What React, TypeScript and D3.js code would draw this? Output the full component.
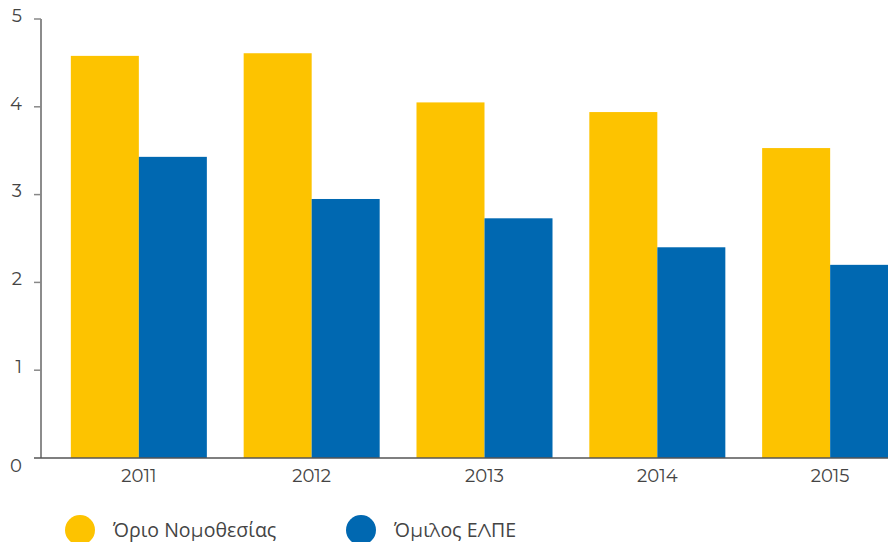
import React from "react";
import * as d3 from "d3";

const years = ["2011", "2012", "2013", "2014", "2015"];
const seriesNames = ["Όριο Νομοθεσίας", "Όμιλος ΕΛΠΕ"];
const limitValues = [4.58, 4.61, 4.05, 3.94, 3.53];
const groupValues = [3.43, 2.95, 2.73, 2.4, 2.2];
const yTicks = [0, 1, 2, 3, 4, 5];
const colors = ["#FDC300", "#0068B1"];

export default function App() {
  const W = 888, H = 542;
  const axisX = 41, baseY = 458, topY = 19;
  const y = d3.scaleLinear().domain([0, 5]).range([baseY, topY]);
  const x = d3.scaleBand().domain(years).range([38, 931]).paddingInner(0.213).paddingOuter(0.19);
  const sub = d3.scaleBand().domain(["a", "b"]).range([0, x.bandwidth()]);
  const series = [limitValues, groupValues];
  const font = "Montserrat, 'Open Sans', 'Noto Sans', sans-serif";
  return (
    <svg width={W} height={H} style={{ position: "absolute", left: 0, top: 0 }} fontFamily={font}>
      {years.map((yr, i) =>
        series.map((s, j) => (
          <rect key={yr + j} x={x(yr)! + sub(j === 0 ? "a" : "b")!} y={y(s[i])} width={sub.bandwidth()} height={baseY - y(s[i])} fill={colors[j]} />
        ))
      )}
      <line x1={axisX} x2={axisX} y1={topY} y2={baseY} stroke="#666" strokeWidth={1.5} />
      <line x1={34} x2={W} y1={baseY} y2={baseY} stroke="#555" strokeWidth={1.5} />
      {yTicks.map((t) => (
        <g key={t}>
          {t > 0 && <line x1={34} x2={axisX} y1={y(t)} y2={y(t)} stroke="#888" strokeWidth={1.5} />}
          <text x={22} y={t === 0 ? y(t) + 9 : y(t) - 2} textAnchor="end" dominantBaseline="middle" fontSize={18} fill="#444">{t}</text>
        </g>
      ))}
      {years.map((yr) => (
        <text key={yr} x={x(yr)! + x.bandwidth() / 2} y={477} textAnchor="middle" dominantBaseline="middle" fontSize={18} fill="#444">{yr}</text>
      ))}
      {seriesNames.map((n, j) => {
        const cx = j === 0 ? 80 : 361;
        return (
          <g key={n}>
            <circle cx={cx} cy={530} r={15} fill={colors[j]} />
            <text x={cx + 33} y={532} dominantBaseline="middle" fontSize={19.5} fill="#444">{n}</text>
          </g>
        );
      })}
    </svg>
  );
}
